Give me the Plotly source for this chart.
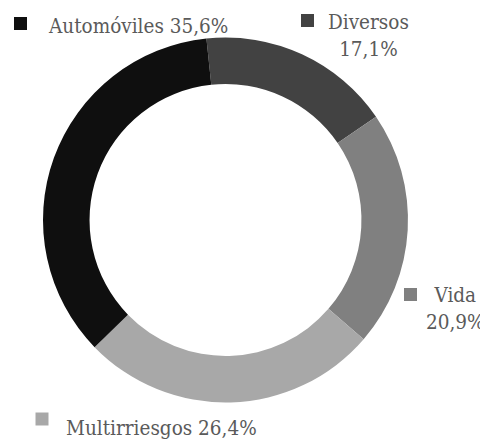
import plotly.graph_objects as go

# data
labels = ["Diversos", "Vida", "Multirriesgos", "Automóviles"]
values = [17.1, 20.9, 26.4, 35.6]
pct_text = ["17,1%", "20,9%", "26,4%", "35,6%"]
colors = ["#424242", "#808080", "#a8a8a8", "#0f0f0f"]

# page body has an 8px margin, so the figure is drawn 8px in from the corner
OFF = 8
W, H = 488 - OFF, 442 - OFF
FONT = "DejaVu Serif Condensed, DejaVu Serif, Liberation Serif, serif"
TXT = "#5a5a5a"


def px(x):
    return (x - OFF) / W


def py(y):
    return 1 - (y - OFF) / H


fig = go.Figure(go.Pie(
    labels=labels, values=values, sort=False, direction="clockwise",
    rotation=-6, hole=0.745, textinfo="none", showlegend=False,
    marker=dict(colors=colors, line=dict(width=0)),
    domain=dict(x=[px(43), px(408)], y=[py(402.5), py(37.5)]),
))

# label layout: (square centre x, y, text x, text y, anchor, one line?)
spots = {
    "Automóviles": (20.5, 23.5, 46, 26, "left", True),
    "Diversos": (307.5, 20.5, 368.5, 36, "center", False),
    "Vida": (410.5, 294.5, 455, 308, "center", False),
    "Multirriesgos": (42, 419, 64, 428, "left", True),
}

shapes, annotations = [], []
for lab, col, pct in zip(labels, colors, pct_text):
    sx, sy, tx, ty, anc, one = spots[lab]
    shapes.append(dict(type="rect", xref="paper", yref="paper",
                       x0=px(sx - 6.5), x1=px(sx + 6.5), y0=py(sy + 6.5), y1=py(sy - 6.5),
                       fillcolor=col, line=dict(width=0)))
    text = f"{lab} {pct}" if one else f"{lab}<br>{pct}"
    annotations.append(dict(text=text, xref="paper", yref="paper", x=px(tx), y=py(ty),
                            xanchor=anc, yanchor="middle", align="center", showarrow=False,
                            font=dict(family=FONT, size=20.5, color=TXT)))

fig.update_layout(width=W, height=H, margin=dict(l=0, r=0, t=0, b=0),
                  paper_bgcolor="white", plot_bgcolor="white",
                  shapes=shapes, annotations=annotations)
fig.write_html("out.html")
